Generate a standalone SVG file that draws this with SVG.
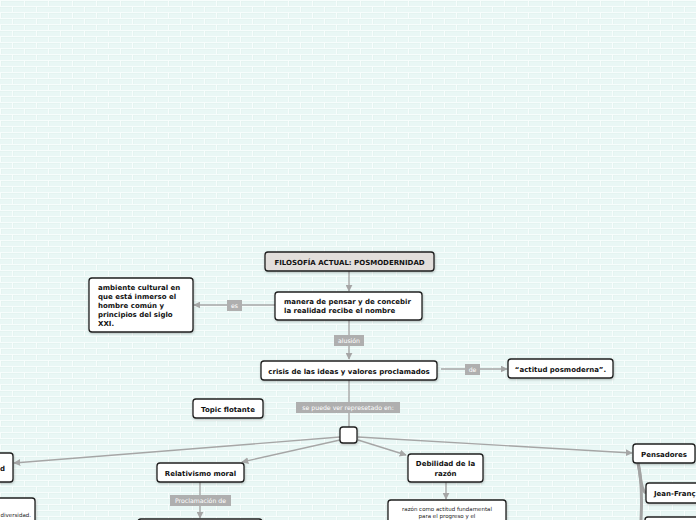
<svg xmlns="http://www.w3.org/2000/svg" width="696" height="520" viewBox="0 0 696 520">
<defs>
<pattern id="brick" width="24" height="12" patternUnits="userSpaceOnUse">
<rect width="24" height="12" fill="#e9f7f5"/>
<path d="M0 0.5H24M0 6.5H24M0.5 0V6M12.5 6V12" stroke="#f7fdfc" stroke-width="1" fill="none"/>
<path d="M1 1.5H24M0 7.5H12M13 7.5H24M1.5 1V6M13.5 7V12" stroke="#e2f1ef" stroke-width="0.6" fill="none"/>
</pattern>
<marker id="arr" viewBox="0 0 10 10" refX="9" refY="5" markerWidth="7" markerHeight="7" orient="auto" markerUnits="userSpaceOnUse">
<path d="M0 0L10 5L0 10z" fill="#a6a6a6"/>
</marker>
<filter id="sh" x="-10%" y="-10%" width="130%" height="150%">
<feDropShadow dx="0.5" dy="1" stdDeviation="0.8" flood-color="#000" flood-opacity="0.25"/>
</filter>
</defs>
<style>
.n{fill:#fff;stroke:#1f1f1f;stroke-width:1.3;filter:url(#sh)}
.root{fill:#e2dedb}
.t{font-family:"DejaVu Sans",sans-serif;font-weight:bold;font-size:7px;fill:#111}
.s{font-family:"DejaVu Sans",sans-serif;font-size:5.5px;fill:#222}
.c{fill:none;stroke:#a6a6a6;stroke-width:1.4}
.thick{fill:none;stroke:#a3a3a3;stroke-width:3}
.lb{fill:#afafaf}
.lt{font-family:"DejaVu Sans",sans-serif;font-size:6.2px;fill:#fff}
</style>
<rect width="696" height="520" fill="url(#brick)"/>

<g id="connectors">
<path class="c" d="M349 271V291" marker-end="url(#arr)"/>
<path class="c" d="M275 305H194" marker-end="url(#arr)"/>
<rect class="lb" x="227" y="300" width="15" height="11"/>
<text class="lt" x="234.5" y="307.8" text-anchor="middle">es</text>
<path class="c" d="M349 320V359" marker-end="url(#arr)"/>
<rect class="lb" x="334" y="335" width="30" height="11"/>
<text class="lt" x="349" y="342.8" text-anchor="middle">alusión</text>
<path class="c" d="M441 369H507" marker-end="url(#arr)"/>
<rect class="lb" x="465" y="364" width="15" height="11"/>
<text class="lt" x="472.5" y="371.8" text-anchor="middle">de</text>
<path class="c" d="M349 380V427"/>
<rect class="lb" x="296" y="402" width="104" height="11"/>
<text class="lt" x="348" y="409.8" text-anchor="middle">se puede ver represetado en:</text>
<path class="c" d="M340 437L14 463" marker-end="url(#arr)"/>
<path class="c" d="M340 440L242 462" marker-end="url(#arr)"/>
<path class="c" d="M358 440L406 455" marker-end="url(#arr)"/>
<path class="c" d="M358 437L632 453" marker-end="url(#arr)"/>
<path class="c" d="M200 482V518" marker-end="url(#arr)"/>
<rect class="lb" x="170" y="495" width="61" height="11"/>
<text class="lt" x="200.5" y="502.8" text-anchor="middle">Proclamación de</text>
<path class="c" d="M446 482V499" marker-end="url(#arr)"/>
<path class="thick" d="M638 463C641 475 640 490 646 493"/>
<path class="thick" d="M638 463C642 480 642 500 641 520"/>
</g>

<g id="root">
<rect class="n root" x="265" y="252" width="169" height="19" rx="3"/>
<text class="t" x="349.5" y="264.5" text-anchor="middle">FILOSOFÍA ACTUAL: POSMODERNIDAD</text>
</g>
<g id="manera">
<rect class="n" x="275" y="292" width="147" height="28" rx="3"/>
<text class="t" x="284" y="304">manera de pensar y de concebir</text>
<text class="t" x="284" y="313">la realidad recibe el nombre</text>
</g>
<g id="ambiente">
<rect class="n" x="89" y="278" width="104" height="54" rx="3"/>
<text class="t" x="98" y="290">ambiente cultural en</text>
<text class="t" x="98" y="299">que está inmerso el</text>
<text class="t" x="98" y="308">hombre común y</text>
<text class="t" x="98" y="317">principios del siglo</text>
<text class="t" x="98" y="326">XXI.</text>
</g>
<g id="crisis">
<rect class="n" x="261" y="361" width="176" height="19" rx="3"/>
<text class="t" x="349" y="373.5" text-anchor="middle">crisis de las ideas y valores proclamados</text>
</g>
<g id="actitud">
<rect class="n" x="508" y="359" width="105" height="19" rx="3"/>
<text class="t" x="560.5" y="371.5" text-anchor="middle">“actitud posmoderna”.</text>
</g>
<g id="topic">
<rect class="n" x="193" y="399" width="70" height="19" rx="3"/>
<text class="t" x="228" y="411.5" text-anchor="middle">Topic flotante</text>
</g>
<g id="hub">
<rect class="n" x="340" y="427" width="17" height="16" rx="3"/>
</g>
<g id="left-node">
<rect class="n" x="-40" y="453" width="53" height="29" rx="3"/>
<text class="t" x="0" y="470.5">d</text>
</g>
<g id="left-bottom">
<rect class="n" x="-60" y="498" width="95" height="40" rx="3"/>
<text class="s" x="31" y="516.5" text-anchor="end">diversidad.</text>
</g>
<g id="relativismo">
<rect class="n" x="157" y="463" width="87" height="19" rx="3"/>
<text class="t" x="200.5" y="475.5" text-anchor="middle">Relativismo moral</text>
</g>
<g id="proclamacion">
<rect class="n" x="138" y="519" width="124" height="20" rx="3"/>
</g>
<g id="debilidad">
<rect class="n" x="408" y="454" width="75" height="28" rx="3"/>
<text class="t" x="445.5" y="466" text-anchor="middle">Debilidad de la</text>
<text class="t" x="445.5" y="475.5" text-anchor="middle">razón</text>
</g>
<g id="razon">
<rect class="n" x="388" y="500" width="118" height="30" rx="3"/>
<text class="s" x="447" y="510.5" text-anchor="middle">razón como actitud fundamental</text>
<text class="s" x="447" y="518" text-anchor="middle">para el progreso y el</text>
</g>
<g id="pensadores">
<rect class="n" x="633" y="444" width="62" height="19" rx="3"/>
<text class="t" x="664" y="456.5" text-anchor="middle">Pensadores</text>
</g>
<g id="jean">
<rect class="n" x="646" y="483" width="70" height="20" rx="3"/>
<text class="t" x="654" y="496">Jean-Franç</text>
</g>
<g id="pensador2">
<rect class="n" x="645" y="517" width="70" height="20" rx="3"/>
</g>
</svg>
